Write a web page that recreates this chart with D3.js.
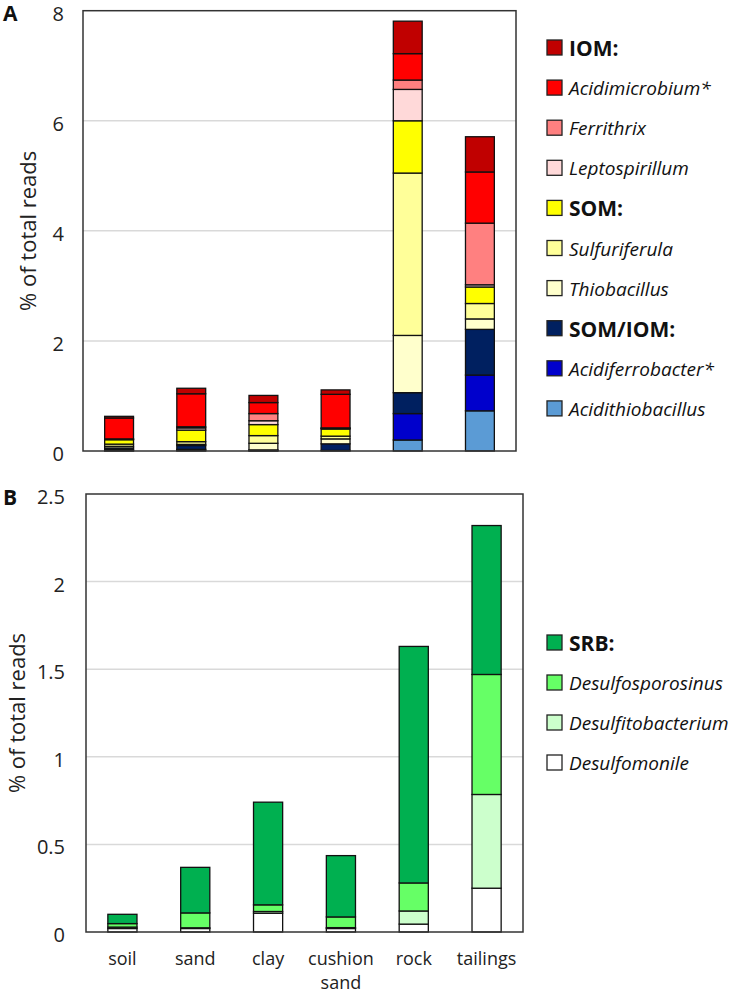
<!DOCTYPE html>
<html>
<head>
<meta charset="utf-8">
<script src="https://cdn.jsdelivr.net/npm/d3@7"></script>
<style>
  body { margin: 0; background: #fff; }
  svg { display: block; font-family: "Open Sans", sans-serif; }
</style>
</head>
<body>
<svg id="chart" width="736" height="996"></svg>
<script>
// ---------- DATA ----------
const categories = ["soil", "sand", "clay", "cushion sand", "rock", "tailings"];

// Panel A (stack order bottom -> top)
const acidithiobacillus = [0.005, 0.01, 0.005, 0.0, 0.20, 0.73];
const acidiferrobacter  = [0.02, 0.02, 0.005, 0.01, 0.48, 0.65];
const somIom            = [0.03, 0.07, 0.01, 0.12, 0.38, 0.83];
const thiobacillus      = [0.03, 0.02, 0.12, 0.09, 1.04, 0.19];
const sulfuriferula     = [0.04, 0.05, 0.14, 0.05, 2.95, 0.28];
const som               = [0.08, 0.21, 0.20, 0.13, 0.95, 0.30];
const leptospirillum    = [0.01, 0.04, 0.07, 0.01, 0.57, 0.04];
const ferrithrix        = [0.005, 0.02, 0.13, 0.01, 0.17, 1.12];
const acidimicrobium    = [0.38, 0.60, 0.20, 0.61, 0.48, 0.93];
const iom               = [0.03, 0.10, 0.13, 0.08, 0.59, 0.64];

// Panel B (stack order bottom -> top)
const desulfomonile      = [0.02, 0.02, 0.107, 0.02, 0.045, 0.25];
const desulfitobacterium = [0.008, 0.004, 0.01, 0.005, 0.075, 0.535];
const desulfosporosinus  = [0.02, 0.085, 0.038, 0.061, 0.16, 0.685];
const srb                = [0.053, 0.26, 0.586, 0.35, 1.35, 0.85];

const ticksA = [0, 2, 4, 6, 8];
const ticksB = [0, 0.5, 1, 1.5, 2, 2.5];

const seriesA = [
  { key: "Acidithiobacillus", values: acidithiobacillus, color: "#5B9BD5", bold: false },
  { key: "Acidiferrobacter*", values: acidiferrobacter, color: "#0000CC", bold: false },
  { key: "SOM/IOM:", values: somIom, color: "#002060", bold: true },
  { key: "Thiobacillus", values: thiobacillus, color: "#FFFFCC", bold: false },
  { key: "Sulfuriferula", values: sulfuriferula, color: "#FFFF99", bold: false },
  { key: "SOM:", values: som, color: "#FFFF00", bold: true },
  { key: "Leptospirillum", values: leptospirillum, color: "#FFD9D9", bold: false },
  { key: "Ferrithrix", values: ferrithrix, color: "#FF8080", bold: false },
  { key: "Acidimicrobium*", values: acidimicrobium, color: "#FF0000", bold: false },
  { key: "IOM:", values: iom, color: "#C00000", bold: true }
];
const seriesB = [
  { key: "Desulfomonile", values: desulfomonile, color: "#FFFFFF", bold: false },
  { key: "Desulfitobacterium", values: desulfitobacterium, color: "#CCFFCC", bold: false },
  { key: "Desulfosporosinus", values: desulfosporosinus, color: "#66FF66", bold: false },
  { key: "SRB:", values: srb, color: "#00B050", bold: true }
];

// ---------- DRAW ----------
const svg = d3.select("#chart");

function panel(cfg) {
  const { series, left, right, top, bottom, max, ticks, tickFmt, labelX, label, labelY, titleX, legendTop, legendStep, showX } = cfg;
  const g = svg.append("g");
  const x = d3.scaleBand().domain(categories).range([left, right]).paddingInner(0.6).paddingOuter(0.3);
  const y = d3.scaleLinear().domain([0, max]).range([bottom, top]);

  // gridlines
  g.append("g").selectAll("line").data(ticks.filter(t => t > 0 && t < max)).join("line")
    .attr("x1", left).attr("x2", right)
    .attr("y1", d => y(d)).attr("y2", d => y(d))
    .attr("stroke", "#d9d9d9").attr("stroke-width", 1.5);

  // y axis labels
  const yAxis = d3.axisLeft(y).tickValues(ticks).tickSize(0).tickPadding(0).tickFormat(tickFmt);
  const ya = g.append("g").attr("transform", `translate(${labelX},3)`).call(yAxis);
  ya.select(".domain").remove();
  ya.selectAll("text").attr("font-size", 20).attr("fill", "#222").attr("font-family", "Open Sans, sans-serif");

  // stacked bars
  const table = categories.map((c, i) => {
    const row = { cat: c };
    series.forEach(s => row[s.key] = s.values[i]);
    return row;
  });
  const stack = d3.stack().keys(series.map(s => s.key))(table);
  const colorOf = Object.fromEntries(series.map(s => [s.key, s.color]));
  g.append("g").selectAll("g").data(stack).join("g")
    .attr("fill", d => colorOf[d.key])
    .selectAll("rect").data(d => d.filter(p => p[1] - p[0] > 0)).join("rect")
    .attr("x", d => x(d.data.cat))
    .attr("width", x.bandwidth())
    .attr("y", d => y(d[1]))
    .attr("height", d => y(d[0]) - y(d[1]))
    .attr("stroke", "#111").attr("stroke-width", 1.3);

  // frame
  g.append("rect").attr("x", left).attr("y", top).attr("width", right - left).attr("height", bottom - top)
    .attr("fill", "none").attr("stroke", "#333").attr("stroke-width", 1.5);

  // y title
  g.append("text")
    .attr("transform", `translate(${titleX},${(top + bottom) / 2}) rotate(-90)`)
    .attr("text-anchor", "middle").attr("dominant-baseline", "central")
    .attr("font-size", 22).attr("fill", "#222")
    .text("% of total reads");

  // panel label
  g.append("text").attr("x", 3).attr("y", labelY).attr("font-size", 21).attr("font-weight", "bold")
    .attr("fill", "#111").text(label);

  // legend (top -> bottom is reverse stack order)
  const leg = g.append("g").selectAll("g").data(series.slice().reverse()).join("g")
    .attr("transform", (d, i) => `translate(547,${legendTop + i * legendStep})`);
  leg.append("rect").attr("x", 0).attr("y", -8).attr("width", 15).attr("height", 15)
    .attr("fill", d => d.color).attr("stroke", "#222").attr("stroke-width", 1.3);
  leg.append("text").attr("x", 22).attr("y", 0).attr("dominant-baseline", "central")
    .attr("font-size", d => d.bold ? 21 : 19)
    .attr("font-weight", d => d.bold ? "bold" : "normal")
    .attr("font-style", d => d.bold ? "normal" : "italic")
    .attr("fill", "#111")
    .text(d => d.key);

  if (showX) {
    const xa = g.append("g").attr("transform", `translate(0,${bottom})`)
      .call(d3.axisBottom(x).tickSize(0).tickPadding(20));
    xa.select(".domain").remove();
    xa.selectAll("text").attr("font-size", 18).attr("fill", "#222").attr("font-family", "Open Sans, sans-serif")
      .each(function(d) {
        const words = d.split(" ");
        if (words.length > 1) {
          const t = d3.select(this).text(null);
          words.forEach((w, i) => t.append("tspan").attr("x", 0).attr("dy", i === 0 ? "0.71em" : "1.35em").text(w));
          t.attr("dy", null);
        }
      });
  }
}

panel({
  series: seriesA, left: 83, right: 516, top: 10.7, bottom: 451, max: 8, ticks: ticksA,
  tickFmt: d3.format("d"), labelX: 64, label: "A", labelY: 21, titleX: 27,
  legendTop: 48, legendStep: 40.1, showX: false
});
panel({
  series: seriesB, left: 86, right: 523, top: 494, bottom: 932, max: 2.5, ticks: ticksB,
  tickFmt: d => d3.format("~g")(d), labelX: 65, label: "B", labelY: 505, titleX: 16,
  legendTop: 643, legendStep: 40, showX: true
});
</script>
</body>
</html>
